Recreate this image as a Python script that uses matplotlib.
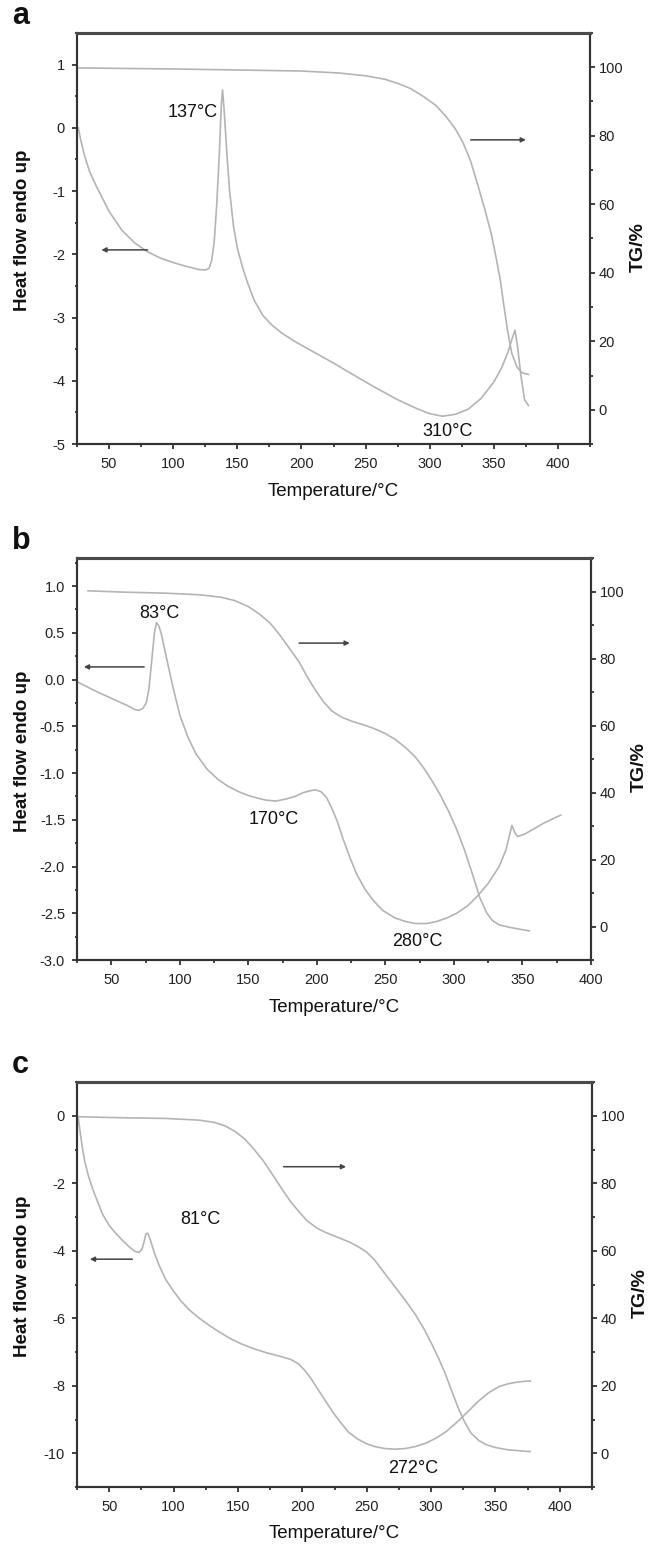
import matplotlib
matplotlib.use("Agg")
import matplotlib.pyplot as plt
from matplotlib.ticker import MultipleLocator, FormatStrFormatter

plt.rcParams['font.family'] = ['Liberation Sans', 'DejaVu Sans']
plt.rcParams['axes.unicode_minus'] = False

# ---------------- data: panel a ----------------
a_dsc_T = [26, 28, 31, 35, 40, 45, 50, 60, 70, 80, 90, 100, 110, 120, 125, 128, 130, 132, 134, 136,
           137.5, 138.5, 140, 142, 144, 147, 150, 154, 158, 163, 170, 177, 185, 195, 210, 225, 240,
           257, 275, 290, 300, 310, 320, 330, 340, 350, 356, 361, 364, 366.5, 368.5, 371, 374, 377]
a_dsc_H = [0.0, -0.2, -0.45, -0.7, -0.92, -1.12, -1.32, -1.62, -1.82, -1.96, -2.06, -2.13, -2.19,
           -2.24, -2.25, -2.22, -2.1, -1.8, -1.2, -0.4, 0.35, 0.6, 0.2, -0.45, -1.0, -1.55, -1.9,
           -2.2, -2.45, -2.72, -2.97, -3.12, -3.25, -3.38, -3.55, -3.72, -3.9, -4.1, -4.3, -4.44,
           -4.52, -4.56, -4.53, -4.45, -4.28, -4.02, -3.8, -3.55, -3.35, -3.2, -3.45, -3.9, -4.3,
           -4.39]
a_tg_T = [26, 100, 150, 200, 230, 250, 265, 275, 285, 295, 305, 313, 320, 326, 332, 338, 343, 348,
          352, 355, 358, 361, 364, 368, 372, 377]
a_tg_W = [99.8, 99.5, 99.2, 98.9, 98.3, 97.5, 96.5, 95.3, 93.8, 91.5, 88.8, 85.5, 82.0, 78.0, 72.5,
          65.0, 58.5, 51.4, 44.0, 38.0, 30.0, 22.5, 16.5, 12.5, 10.8, 10.3]

# ---------------- data: panel b ----------------
b_dsc_T = [26, 38, 53, 62, 67, 70, 73, 75.5, 77.5, 79.5, 81.5, 83, 84.5, 86.5, 89, 91.5, 95, 100,
           106, 112, 120, 128, 135, 143, 150, 157, 163, 170, 177, 184, 190, 195, 199, 203, 207,
           211, 215, 219, 224, 229, 235, 241, 248, 257, 265, 272, 280, 287, 295, 302, 310, 317,
           325, 333, 338, 342.3, 344.5, 346.5, 352, 358, 365, 372, 378]
b_dsc_H = [-0.03, -0.12, -0.22, -0.28, -0.32, -0.33, -0.31, -0.25, -0.1, 0.2, 0.5, 0.61, 0.58, 0.49,
           0.32, 0.15, -0.08, -0.38, -0.62, -0.8, -0.96, -1.07, -1.14, -1.2, -1.24, -1.27, -1.29,
           -1.3, -1.28, -1.25, -1.21, -1.19, -1.18, -1.2, -1.26, -1.38, -1.52, -1.7, -1.9, -2.08,
           -2.24, -2.36, -2.47, -2.55, -2.59, -2.61, -2.61, -2.59, -2.55, -2.5, -2.42, -2.32,
           -2.18, -2.0, -1.82, -1.56, -1.64, -1.68, -1.65, -1.6, -1.54, -1.49, -1.45]
b_tg_T = [33, 60, 90, 115, 130, 140, 150, 158, 166, 173, 180, 187, 193, 199, 205, 211, 218, 226,
          234, 241, 249, 257, 265, 272, 278, 284, 290, 296, 302, 308, 314, 319, 324, 328, 333, 340,
          348, 355]
b_tg_W = [100.2, 99.8, 99.5, 99.0, 98.3, 97.3, 95.5, 93.3, 90.5, 87.0, 83.0, 79.0, 74.5, 70.5, 67.0,
          64.3, 62.5, 61.2, 60.2, 59.2, 57.8, 55.9, 53.3, 50.5, 47.3, 43.5, 39.3, 34.5, 29.0, 22.5,
          15.0, 8.5, 4.0, 1.8, 0.5, -0.2, -0.8, -1.3]

# ---------------- data: panel c ----------------
c_dsc_T = [26, 27.5, 29, 31, 34, 37, 40, 45, 50, 55, 61, 66, 70, 73, 75.5, 77, 78.5, 80, 82, 85,
           89, 94, 100, 106, 113, 120, 128, 136, 144, 152, 162, 172, 182, 191, 197, 202, 207, 212,
           218, 224, 230, 236, 243, 250, 256, 264, 272, 280, 288, 296, 304, 312, 321, 329, 337,
           345, 353, 360, 366, 372, 377]
c_dsc_H = [-0.08, -0.5, -0.9, -1.35, -1.8, -2.15, -2.45, -2.93, -3.25, -3.48, -3.72, -3.9, -4.02,
           -4.05, -3.95, -3.75, -3.5, -3.48, -3.68, -4.05, -4.45, -4.86, -5.2, -5.5, -5.78, -6.0,
           -6.22, -6.42, -6.6, -6.75, -6.9, -7.02, -7.12, -7.22, -7.35, -7.55, -7.8, -8.1, -8.45,
           -8.8, -9.1, -9.38, -9.58, -9.72, -9.8, -9.86, -9.88, -9.86, -9.8, -9.7, -9.55, -9.35,
           -9.05, -8.75, -8.45, -8.2, -8.02, -7.94, -7.9, -7.87, -7.86]
c_tg_T = [26, 61, 94, 120, 132, 140, 148, 155, 162, 170, 178, 185, 191, 198, 204, 211, 217, 224,
          230, 237, 243, 250, 256, 263, 272, 280, 288, 295, 301, 306, 311, 316, 321, 326, 331, 337,
          343, 350, 360, 370, 377]
c_tg_W = [99.7, 99.4, 99.2, 98.7, 98.0, 97.0, 95.3, 93.2, 90.3, 86.5, 81.9, 77.8, 74.5, 71.3, 68.8,
          66.8, 65.6, 64.5, 63.6, 62.5, 61.3, 59.6, 57.3, 53.8, 49.3, 45.3, 41.0, 36.5, 32.0, 28.0,
          23.6, 18.5, 13.5, 9.3, 6.0, 3.8, 2.5, 1.7, 1.0, 0.7, 0.5]

FIG_W, FIG_H = 648, 1560

panels = [
    dict(letter='a', T1=a_dsc_T, H=a_dsc_H, T2=a_tg_T, W=a_tg_W,
         xlim=(25, 425), ylim=(-5, 1.5), ymaj=1, ymin=0.5, fmt='%d',
         box=(77, 33, 590, 444),
         texts=[(115, 0.24, '137°C'), (314, -4.81, '310°C')],
         larrow=((80, -1.93), (44, -1.93)), rarrow=((332, 78.8), (375, 78.8))),
    dict(letter='b', T1=b_dsc_T, H=b_dsc_H, T2=b_tg_T, W=b_tg_W,
         xlim=(25, 400), ylim=(-3, 1.3), ymaj=0.5, ymin=0.25, fmt='%.1f',
         box=(77, 558, 591, 960),
         texts=[(85, 0.71, '83°C'), (168.5, -1.50, '170°C'), (273, -2.80, '280°C')],
         larrow=((74, 0.135), (30, 0.135)), rarrow=((187, 84.6), (224, 84.6))),
    dict(letter='c', T1=c_dsc_T, H=c_dsc_H, T2=c_tg_T, W=c_tg_W,
         xlim=(25, 425), ylim=(-11, 1), ymaj=2, ymin=1, fmt='%d',
         box=(77, 1082, 592, 1487),
         texts=[(121, -3.08, '81°C'), (286, -10.46, '272°C')],
         larrow=((68, -4.25), (35, -4.25)), rarrow=((185.5, 84.9), (234, 84.9))),
]

curve_col = '#b4b4b4'
spine_col = '#333333'
text_col = '#111111'

fig = plt.figure(figsize=(FIG_W / 100, FIG_H / 100), dpi=100)

for p in panels:
    l, t, r, b = p['box']
    w_px, h_px = r - l, b - t
    ax = fig.add_axes([l / FIG_W, 1 - b / FIG_H, w_px / FIG_W, h_px / FIG_H])
    ax2 = ax.twinx()
    ax.plot(p['T1'], p['H'], color=curve_col, lw=1.2)
    ax2.plot(p['T2'], p['W'], color=curve_col, lw=1.2)
    ax.set_xlim(*p['xlim'])
    ax.set_ylim(*p['ylim'])
    ax2.set_ylim(-10, 110)

    ax.xaxis.set_major_locator(MultipleLocator(50))
    ax.xaxis.set_minor_locator(MultipleLocator(25))
    ax.yaxis.set_major_locator(MultipleLocator(p['ymaj']))
    ax.yaxis.set_minor_locator(MultipleLocator(p['ymin']))
    ax.yaxis.set_major_formatter(FormatStrFormatter(p['fmt']))
    ax2.yaxis.set_major_locator(MultipleLocator(20))
    ax2.yaxis.set_minor_locator(MultipleLocator(10))

    for a_ in (ax, ax2):
        for s in a_.spines.values():
            s.set_color(spine_col)
            s.set_linewidth(1.5)
        a_.spines['top'].set_linewidth(2.2)
        a_.spines['top'].set_color('#4a4a4a')
    ax.tick_params(axis='both', which='major', direction='out', length=3.6, width=1.3,
                   labelsize=10.5, colors=spine_col, labelcolor='#222222')
    ax.tick_params(axis='both', which='minor', direction='out', length=1.8, width=1.3,
                   colors=spine_col)
    ax.tick_params(axis='x', which='major', pad=6)
    ax.tick_params(axis='y', which='major', pad=5)
    ax2.tick_params(axis='y', which='major', direction='out', length=3.6, width=1.3,
                    labelsize=10.5, colors=spine_col, labelcolor='#222222', pad=2.5)
    ax2.tick_params(axis='y', which='minor', direction='out', length=1.8, width=1.3,
                    colors=spine_col)
    ax.tick_params(top=False, which='both')

    ax.set_xlabel('Temperature/°C', fontsize=13.5, color=text_col)
    ax.xaxis.label.set_verticalalignment('center')
    ax.xaxis.set_label_coords(0.5, -47 / h_px)

    ax.set_ylabel('Heat flow endo up', fontsize=13.5, fontweight='bold', color=text_col)
    ax.yaxis.label.set_verticalalignment('center')
    ax.yaxis.set_label_coords(-54 / w_px, 0.52)

    ax2.set_ylabel('TG/%', fontsize=14, fontweight='bold', color=text_col)
    ax2.yaxis.label.set_verticalalignment('center')
    ax2.yaxis.set_label_coords(1 + 48 / w_px, 0.48)

    for (x, y, s) in p['texts']:
        ax.text(x, y, s, fontsize=13, ha='center', va='center', color=text_col)

    (x0, y0), (x1, y1) = p['larrow']
    ax.annotate('', xy=(x1, y1), xytext=(x0, y0),
                arrowprops=dict(arrowstyle='-|>', color='#444444', lw=1.1,
                                mutation_scale=7, shrinkA=0, shrinkB=0))
    (x0, y0), (x1, y1) = p['rarrow']
    ax2.annotate('', xy=(x1, y1), xytext=(x0, y0),
                 arrowprops=dict(arrowstyle='-|>', color='#444444', lw=1.1,
                                 mutation_scale=7, shrinkA=0, shrinkB=0))

    fig.text(12 / FIG_W, 1 - (t - 2) / FIG_H, p['letter'], fontsize=22,
             fontweight='bold', ha='left', va='bottom', color=text_col)

fig.savefig('out.png', dpi=100, facecolor='white')
